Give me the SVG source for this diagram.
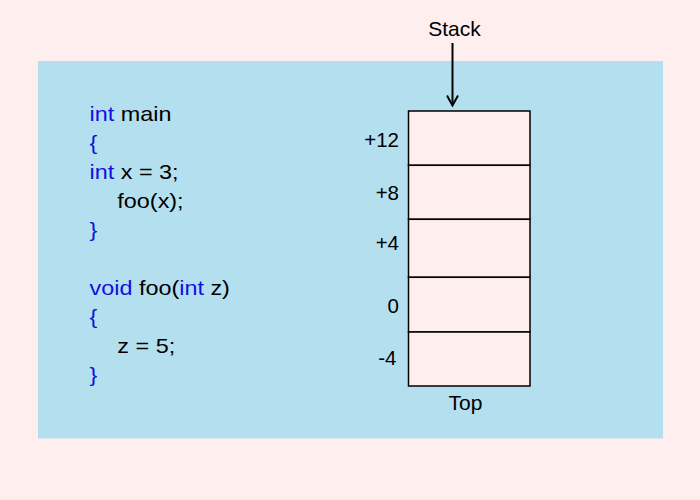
<svg xmlns="http://www.w3.org/2000/svg" width="700" height="500" viewBox="0 0 700 500">
<style>
text{font-family:"Liberation Sans",Arial,sans-serif;font-size:20px;fill:#000}
.kw{fill:#1010E0}
.cell{fill:#FFEEEE;stroke:#000;stroke-width:1.5}
.lbl{text-anchor:end;font-size:20.5px}
.big{font-size:21px;text-anchor:middle}
</style>
<defs>
<marker id="ah" markerWidth="14" markerHeight="14" refX="10" refY="0" orient="auto" markerUnits="userSpaceOnUse" viewBox="-2 -7 14 14">
<path d="M0,-5.5 L10,0 L0,5.5" fill="none" stroke="#000" stroke-width="2"/>
</marker>
</defs>
<rect width="700" height="500" fill="#FFEEEE"/>
<rect x="38" y="61" width="625" height="377.5" fill="#B4DFEE"/>
<g id="code" transform="scale(1.17,1)">
<text x="76.5" y="121.5"><tspan class="kw">int</tspan> main</text>
<text x="76.5" y="150.5" class="kw">{</text>
<text x="76.5" y="179.5"><tspan class="kw">int</tspan> x = 3;</text>
<text x="100.3" y="208.5">foo(x);</text>
<text x="76.5" y="237.5" class="kw">}</text>
<text x="76.5" y="295.5"><tspan class="kw">void</tspan> foo(<tspan class="kw">int</tspan> z)</text>
<text x="76.5" y="324.5" class="kw">{</text>
<text x="100.3" y="353.5">z = 5;</text>
<text x="76.5" y="382.5" class="kw">}</text>
</g>
<g id="stack">
<rect class="cell" x="408.5" y="111" width="121.5" height="54.3"/>
<rect class="cell" x="408.5" y="165.3" width="121.5" height="54"/>
<rect class="cell" x="408.5" y="219.3" width="121.5" height="58"/>
<rect class="cell" x="408.5" y="277.3" width="121.5" height="54.7"/>
<rect class="cell" x="408.5" y="332" width="121.5" height="54"/>
<text class="lbl" x="399" y="146.5">+12</text>
<text class="lbl" x="399" y="199.5">+8</text>
<text class="lbl" x="399" y="250">+4</text>
<text class="lbl" x="399" y="313">0</text>
<text class="lbl" x="396.5" y="365">-4</text>
<text class="big" x="465.5" y="409.5">Top</text>
</g>
<g id="stack-label">
<text class="big" x="454.5" y="35.5">Stack</text>
</g>
<g id="connectors">
<line x1="452.5" y1="43" x2="452.5" y2="105.5" stroke="#000" stroke-width="2" marker-end="url(#ah)"/>
</g>
</svg>
